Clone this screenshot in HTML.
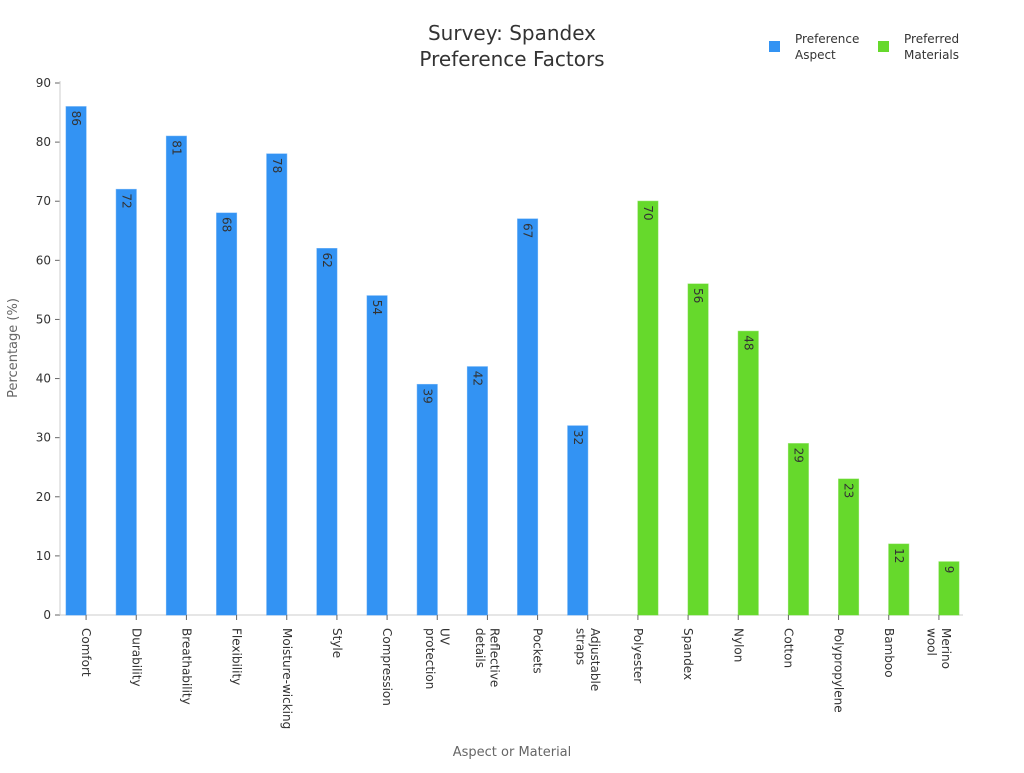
<!DOCTYPE html>
<html><head><meta charset="utf-8"><style>
body{margin:0;background:#fff;}
svg text{font-family:"DejaVu Sans","Liberation Sans",sans-serif;}
</style></head><body>
<svg id="chart" width="1024" height="768">
<text x="512" y="40" text-anchor="middle" font-size="20" fill="#333"><tspan x="512">Survey: Spandex</tspan><tspan x="512" dy="26">Preference Factors</tspan></text>
<g>
<g><rect x="769" y="41" width="11" height="11" fill="#3393f3"/><text x="795" y="43" font-size="12" fill="#333"><tspan x="795">Preference</tspan><tspan x="795" dy="16">Aspect</tspan></text></g>
<g><rect x="878" y="41" width="11" height="11" fill="#66d92c"/><text x="904" y="43" font-size="12" fill="#333"><tspan x="904">Preferred</tspan><tspan x="904" dy="16">Materials</tspan></text></g>
</g>
<text transform="translate(17,348) rotate(-90)" text-anchor="middle" font-size="13" fill="#666">Percentage (%)</text>
<text x="512" y="756" text-anchor="middle" font-size="13" fill="#666">Aspect or Material</text>
<g id="plot"></g>
</svg>
<script>
const categories=["Comfort","Durability","Breathability","Flexibility","Moisture-wicking","Style","Compression","UV\nprotection","Reflective\ndetails","Pockets","Adjustable\nstraps","Polyester","Spandex","Nylon","Cotton","Polypropylene","Bamboo","Merino\nwool"];
const aspectValues=[86,72,81,68,78,62,54,39,42,67,32,null,null,null,null,null,null,null];
const materialValues=[null,null,null,null,null,null,null,null,null,null,null,70,56,48,29,23,12,9];
const yTicks=[0,10,20,30,40,50,60,70,80,90];
const NS="http://www.w3.org/2000/svg";
const x0=60,x1=963,y0=615,y1=83,yMax=90;
const band=(x1-x0)/categories.length;
const xc=i=>x0+band*(i+0.5)+1;
const ys=v=>y0-(v/yMax)*(y0-y1);
const plot=document.getElementById('plot');
function mk(t,a){const e=document.createElementNS(NS,t);for(const k in a)e.setAttribute(k,a[k]);plot.appendChild(e);return e;}
yTicks.forEach(t=>{
  const l=mk('line',{x1:55,x2:60,y1:ys(t),y2:ys(t),stroke:'#666'});
  
  
  const tx=mk('text',{x:51,y:ys(t)+4,'text-anchor':'end','font-size':12,fill:'#333'});
  tx.textContent=t;
  
  
});
const ax=mk('line',{x1:60,x2:60,y1:y1-2,y2:y0,stroke:'#ccc'});


const bx=mk('line',{x1:60,x2:x1,y1:y0,y2:y0,stroke:'#ccc'});


function bar(i,v,off,color,name){
  if(v==null)return;
  const x=xc(i)+off;
  const r=mk('rect',{x:x,y:ys(v),width:20,height:y0-ys(v),fill:color,stroke:color,'stroke-opacity':0.6});
  
  
  const t=mk('text',{transform:`translate(${x+6},${ys(v)+4}) rotate(90)`,'font-size':12,fill:'#333'});
  t.textContent=v;
  
  
}
categories.forEach((c,i)=>{
  bar(i,aspectValues[i],-20,'#3393f3','bar-aspect');
  bar(i,materialValues[i],0,'#66d92c','bar-material');
  const tk=mk('line',{x1:xc(i),x2:xc(i),y1:y0,y2:y0+5,stroke:'#666'});
  
  
  const lines=c.split('\n');
  const t=mk('text',{transform:`translate(${xc(i)-4+(lines.length-1)*7},${y0+13}) rotate(90)`,'font-size':12,fill:'#333'});
  lines.forEach((ln,j)=>{const s=document.createElementNS(NS,'tspan');s.setAttribute('x',0);s.setAttribute('dy',j?'1.2em':'0');s.textContent=ln;t.appendChild(s);});
  
  
});
</script>
</body></html>
